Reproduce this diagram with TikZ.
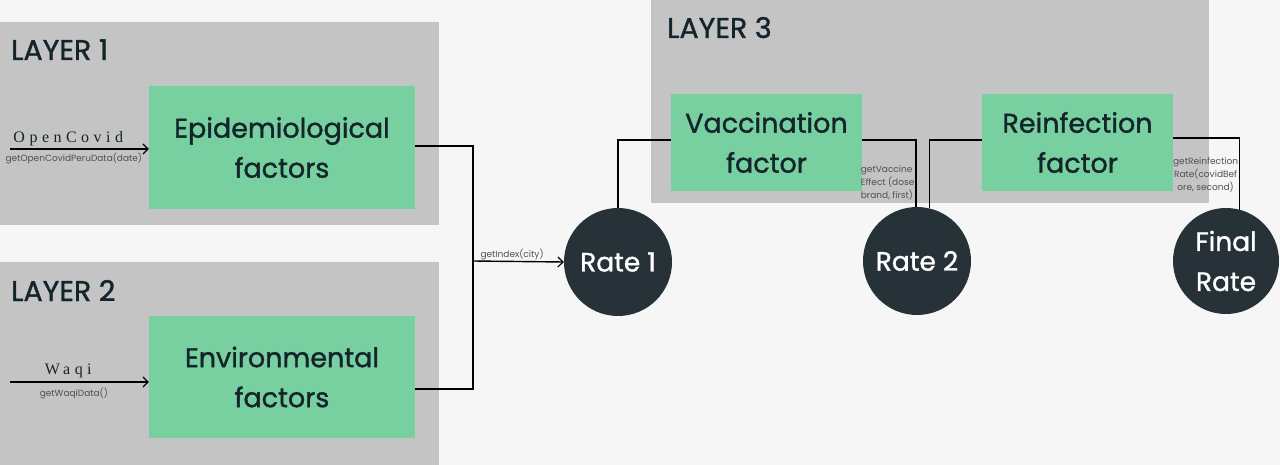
\documentclass[tikz,border=0pt]{standalone}
\usepackage{fontspec}
\setmainfont{Poppins}
\newfontfamily\medfont[FakeBold=1.2]{Poppins}
\newfontfamily\serifspaced[LetterSpace=28]{Liberation Serif}
\usetikzlibrary{arrows.meta}
\definecolor{bgc}{HTML}{F6F6F6}
\definecolor{layergray}{HTML}{C4C4C4}
\definecolor{boxgreen}{HTML}{78CFA0}
\definecolor{darkc}{HTML}{263238}
\definecolor{textc}{HTML}{13242B}
\definecolor{smallc}{HTML}{505050}
\tikzset{
  layerbox/.style={fill=layergray, draw=none},
  layertitle/.style={anchor=base west, text=textc, font=\medfont\fontsize{28.5}{32}\selectfont, inner sep=0pt},
  greenbox/.style={fill=boxgreen, draw=none, text=textc, align=center, font=\medfont\fontsize{27}{40}\selectfont, inner sep=0pt},
  ratenode/.style={circle, fill=darkc, draw=none, text=white, align=center, minimum size=108pt, inner sep=0pt, font=\medfont\fontsize{26.5}{40}\selectfont},
  conn/.style={draw=black, line width=1.4pt},
  arr/.style={conn, -{Straight Barb[length=5pt, width=10pt, line width=1.2pt]}},
  smalllabel/.style={text=smallc, font=\fontsize{9}{13}\selectfont, inner sep=1pt},
  srclabel/.style={text=textc, font=\serifspaced\fontsize{16}{18}\selectfont, inner sep=2pt}
}
\begin{document}
\begin{tikzpicture}[x=1pt, y=-1pt]
\useasboundingbox (0,0) rectangle (1280,465);
\fill[bgc] (0,0) rectangle (1280,465);
% layer backgrounds
\node[layerbox, minimum width=439pt, minimum height=203pt, anchor=north west] (l1) at (0,22) {};
\node[layerbox, minimum width=439pt, minimum height=203pt, anchor=north west] (l2) at (0,262) {};
\node[layerbox, minimum width=558pt, minimum height=203pt, anchor=north west] (l3) at (651,0) {};
\node[layertitle] (t1) at (11,60) {LAYER 1};
\node[layertitle] (t2) at (11,301) {LAYER 2};
\node[layertitle] (t3) at (667,38) {LAYER 3};
% green boxes
\node[greenbox, minimum width=266pt, minimum height=123pt] (epi) at (282,147.5) {Epidemiological\\factors};
\node[greenbox, minimum width=266pt, minimum height=122pt] (env) at (282,377) {Environmental\\factors};
\node[greenbox, minimum width=191pt, minimum height=97pt] (vacc) at (766.5,142.5) {Vaccination\\factor};
\node[greenbox, minimum width=191pt, minimum height=97pt] (reinf) at (1077.5,142.5) {Reinfection\\factor};
% rate circles
\node[ratenode] (r1) at (618,262) {Rate 1};
\node[ratenode] (r2) at (917,261) {Rate 2};
\node[ratenode, minimum size=106pt] (fr) at (1226,261) {Final\\Rate};
% sources
\coordinate (oc) at (10,149);
\coordinate (wq) at (10,382);
\draw[arr] (oc) -- ([yshift=-1.5pt]epi.west)
  node[pos=0.42, above, srclabel] {OpenCovid}
  node[pos=0.46, below, smalllabel, yshift=-2pt] {getOpenCovidPeruData(date)};
\draw[arr] (wq) -- ([yshift=-5pt]env.west)
  node[pos=0.42, above, srclabel, yshift=1pt] {Waqi}
  node[pos=0.46, below, smalllabel, yshift=-4pt] {getWaqiData()};
% layer 1/2 to rate 1
\coordinate (jn) at (473,261);
\draw[conn] ([yshift=1.5pt]epi.east) -| (jn);
\draw[conn] ([yshift=-12pt]env.east) -| (jn);
\draw[arr] (jn) -- (r1.west) node[pos=0.43, above, smalllabel] {getIndex(city)};
% layer 3
\draw[conn] (r1.north) |- ([yshift=2.5pt]vacc.west);
\draw[conn] ([yshift=2.5pt]vacc.east) -| (r2.91)
  node[pos=0.82, left, smalllabel, align=left] {getVaccine\\Effect (dose\\brand, first)};
\draw[conn] (r2.77) |- ([yshift=2.5pt]reinf.west);
\draw[conn] ([yshift=4.5pt]reinf.east) -| (fr.75)
  node[pos=0.76, left, smalllabel, align=center] {getReinfection\\Rate(covidBef\\ore, second)};
\end{tikzpicture}
\end{document}
